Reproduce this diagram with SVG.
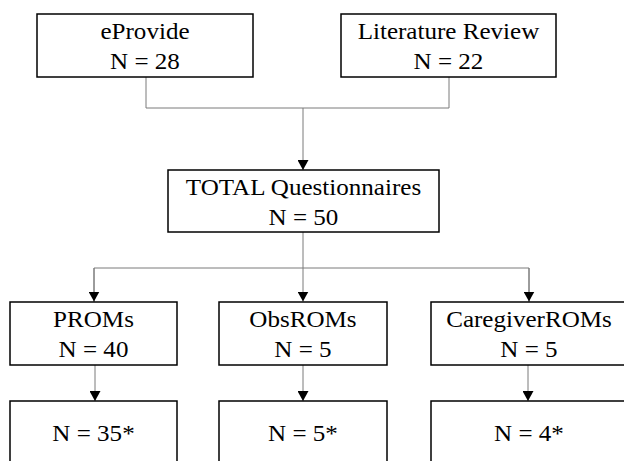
<svg xmlns="http://www.w3.org/2000/svg" width="624" height="461" viewBox="0 0 624 461">
<style>
.box{fill:#fff;stroke:#000;stroke-width:1.5}
.t{font-family:"Liberation Serif","Times New Roman",serif;font-size:23px;fill:#000;text-anchor:middle;transform-box:fill-box;transform-origin:center;transform:scaleX(1.09)}
.c{fill:none;stroke:#7a7a7a;stroke-width:1}
</style>
<defs>
<marker id="ah" markerUnits="userSpaceOnUse" markerWidth="10" markerHeight="11" refX="10" refY="5.5" orient="auto">
<path d="M0,0 L10,5.5 L0,11 z" fill="#000"/>
</marker>
</defs>
<rect width="624" height="461" fill="#fff"/>
<g id="connectors">
<path class="c" d="M146,77 V108 H449 V77"/>
<path class="c" d="M303,108 V170" marker-end="url(#ah)"/>
<path class="c" d="M303,232 V301.5" marker-end="url(#ah)"/>
<path class="c" d="M94,302 V268 H529 V302" />
<path class="c" d="M94,268 V301.5" marker-end="url(#ah)"/>
<path class="c" d="M529,268 V301.5" marker-end="url(#ah)"/>
<path class="c" d="M95,365 V401" marker-end="url(#ah)"/>
<path class="c" d="M303,365 V401" marker-end="url(#ah)"/>
<path class="c" d="M528,365 V401" marker-end="url(#ah)"/>
</g>
<g id="eprovide">
<rect class="box" x="37" y="14" width="216" height="63"/>
<text class="t" x="145" y="39.5">eProvide</text>
<text class="t" x="145" y="69.5">N = 28</text>
</g>
<g id="literature">
<rect class="box" x="341" y="14" width="215" height="63"/>
<text class="t" x="448.5" y="39.5">Literature Review</text>
<text class="t" x="448.5" y="69.5">N = 22</text>
</g>
<g id="total">
<rect class="box" x="168" y="170" width="271" height="62"/>
<text class="t" x="303.5" y="195">TOTAL Questionnaires</text>
<text class="t" x="303.5" y="225.5">N = 50</text>
</g>
<g id="proms">
<rect class="box" x="10" y="302" width="167" height="63"/>
<text class="t" x="93.5" y="327">PROMs</text>
<text class="t" x="93.5" y="357.5">N = 40</text>
</g>
<g id="obsroms">
<rect class="box" x="219" y="302" width="168" height="63"/>
<text class="t" x="303" y="327">ObsROMs</text>
<text class="t" x="303" y="357.5">N = 5</text>
</g>
<g id="caregiverroms">
<rect class="box" x="431" y="302" width="200" height="63"/>
<text class="t" x="529" y="327">CaregiverROMs</text>
<text class="t" x="529" y="357.5">N = 5</text>
</g>
<g id="proms-result">
<rect class="box" x="10" y="401" width="167" height="80"/>
<text class="t" x="93.5" y="441.5">N = 35*</text>
</g>
<g id="obsroms-result">
<rect class="box" x="219" y="401" width="168" height="80"/>
<text class="t" x="303" y="441.5">N = 5*</text>
</g>
<g id="caregiverroms-result">
<rect class="box" x="431" y="401" width="200" height="80"/>
<text class="t" x="529" y="441.5">N = 4*</text>
</g>
</svg>
